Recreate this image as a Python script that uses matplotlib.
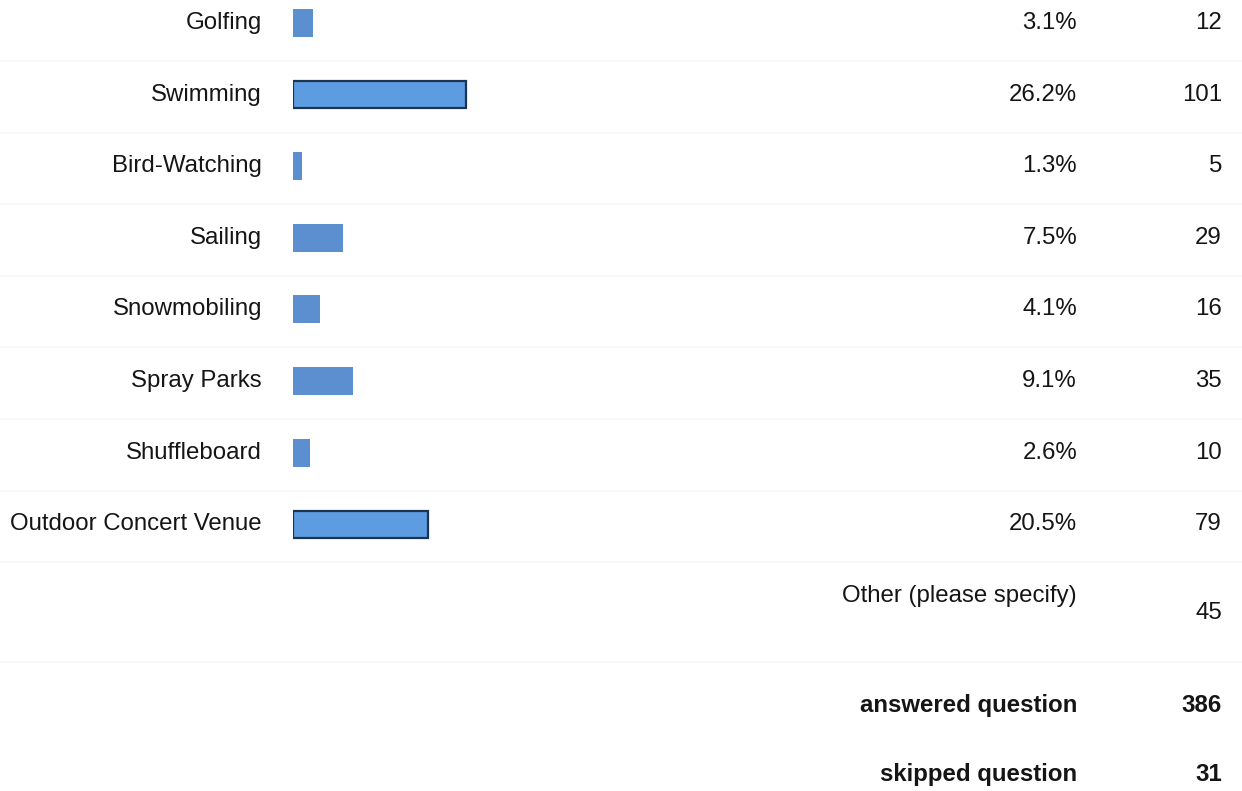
import matplotlib
matplotlib.use("Agg")
import matplotlib.pyplot as plt
from matplotlib import font_manager as fm
import os

categories = ["Golfing", "Swimming", "Bird-Watching", "Sailing", "Snowmobiling",
              "Spray Parks", "Shuffleboard", "Outdoor Concert Venue"]
percents = [3.1, 26.2, 1.3, 7.5, 4.1, 9.1, 2.6, 20.5]
counts = [12, 101, 5, 29, 16, 35, 10, 79]
other_label = "Other (please specify)"
other_count = 45
answered = 386
skipped = 31

def find_font(name):
    for f in fm.findSystemFonts():
        if os.path.basename(f) == name:
            return f
    return None

reg_path = find_font("LiberationSans-Regular.ttf")
bold_path = find_font("LiberationSans-Bold.ttf")

fs = 17.3
tc = "#151515"
if reg_path:
    fp_reg = fm.FontProperties(fname=reg_path, size=fs)
else:
    fp_reg = fm.FontProperties(family="DejaVu Sans", size=fs)
if bold_path:
    fp_bold = fm.FontProperties(fname=bold_path, size=fs)
else:
    fp_bold = fm.FontProperties(family="DejaVu Sans", weight="bold", size=fs)

W, H = 1242, 791
fig = plt.figure(figsize=(W / 100, H / 100), dpi=100)
fig.patch.set_facecolor("white")

row0 = 23.0
step = 71.6
ytop = -row0 / step
ybot = (H - row0) / step

bg = fig.add_axes([0, 0, 1, 1])
bg.set_xlim(0, W)
bg.set_ylim(ybot, ytop)
bg.axis("off")

for i in range(len(categories)):
    bg.axhline(i + 0.53, color="#f7f7f7", lw=1.2, zorder=0)
bg.axhline(len(categories) + 0.93, color="#f7f7f7", lw=1.2, zorder=0)

for i, (c, p, n) in enumerate(zip(categories, percents, counts)):
    bg.text(262, i, c, ha="right", va="center", fontproperties=fp_reg, color=tc)
    bg.text(1077, i, f"{p:.1f}%", ha="right", va="center", fontproperties=fp_reg, color=tc)
    bg.text(1222, i, str(n), ha="right", va="center", fontproperties=fp_reg, color=tc)

k = len(categories)
bg.text(1077, k, other_label, ha="right", va="center", fontproperties=fp_reg, color=tc)
bg.text(1222, k + 0.24, str(other_count), ha="right", va="center", fontproperties=fp_reg, color=tc)
bg.text(1077, k + 1.53, "answered question", ha="right", va="center",
        fontproperties=fp_bold, color=tc)
bg.text(1222, k + 1.53, str(answered), ha="right", va="center",
        fontproperties=fp_bold, color=tc)
bg.text(1077, k + 2.49, "skipped question", ha="right", va="center",
        fontproperties=fp_bold, color=tc)
bg.text(1222, k + 2.49, str(skipped), ha="right", va="center",
        fontproperties=fp_bold, color=tc)

x0 = 293
scale = 6.6
wpx = 500
ax = fig.add_axes([x0 / W, 0, wpx / W, 1])
ax.set_xlim(0, wpx / scale)
ax.set_ylim(ybot, ytop)
ax.axis("off")
ax.patch.set_alpha(0)

for i, p in enumerate(percents):
    if p >= 15:
        ax.barh(i, p, height=0.38, color="#5e9ce2", edgecolor="#1d3450", linewidth=1.6,
                zorder=3)
    else:
        ax.barh(i, p, height=0.39, color="#5b8fd0", edgecolor="none", zorder=3)

fig.savefig("out.png", dpi=100, facecolor="white")
